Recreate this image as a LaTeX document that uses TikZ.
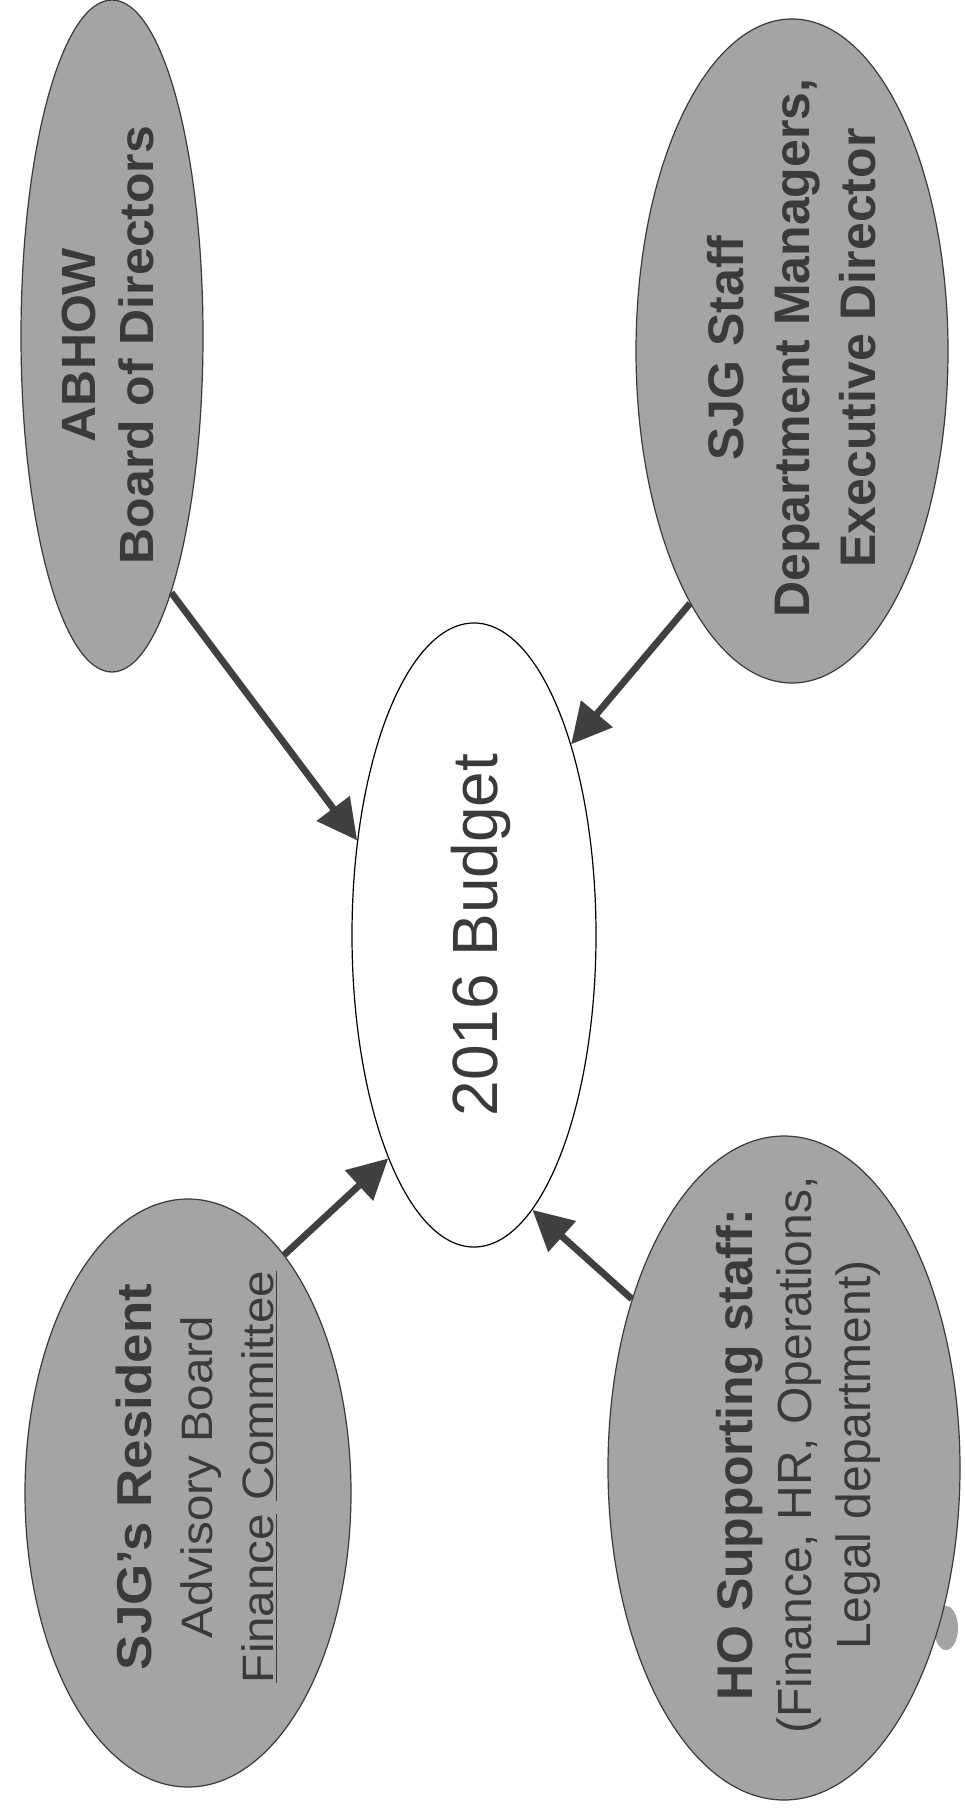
\documentclass[tikz,border=0pt]{standalone}
\usepackage{fontspec}
\setmainfont{Liberation Sans}
\usetikzlibrary{shapes.geometric, arrows.meta}

\definecolor{bubblegrey}{RGB}{164,164,164}
\definecolor{inkgrey}{RGB}{58,58,58}
\definecolor{arrowgrey}{RGB}{64,64,64}

\tikzset{
	bubble/.style = {ellipse, draw = inkgrey, line width = 0.6pt, fill = bubblegrey, inner sep = 0pt},
	budgetshape/.style = {ellipse, draw = black, line width = 0.6pt, fill = white, inner sep = 0pt},
	bubbletext/.style = {rotate = 90, align = center, text = inkgrey, inner sep = 0pt},
	feed/.style = {draw = arrowgrey, line width = 3.4pt, -{Triangle[length = 20pt, width = 20pt]}}
}

\begin{document}
\begin{tikzpicture}[x = 0.5pt, y = -0.5pt]
	\useasboundingbox (0,0) rectangle (964,1808);

	\begin{scope}
		\fill [bubblegrey] (946,1628) ellipse [x radius = 6pt, y radius = 11pt];
		\node [bubble, minimum width = 91pt, minimum height = 336pt] (abhow) at (112,336) {};
		\node [bubble, minimum width = 156pt, minimum height = 332pt] (staff) at (792,351) {};
		\node [bubble, minimum width = 163pt, minimum height = 294pt] (resident) at (188,1493) {};
		\node [bubble, minimum width = 176pt, minimum height = 332pt] (ho) at (784,1468) {};
		\node [budgetshape, minimum width = 122pt, minimum height = 312pt] (budget) at (474,935) {};
	\end{scope}

	\begin{scope}
		\node [bubbletext, xscale = 1.04, font = \bfseries\fontsize{24}{29}\selectfont] (abhowtext) at (108,345) {ABHOW\\Board of Directors};
		\node [bubbletext, font = \bfseries\fontsize{25}{33}\selectfont] (stafftext) at (792,348) {SJG Staff\\Department Managers,\\Executive Director};
		\node [bubbletext, font = \fontsize{32}{38}\selectfont] (budgettext) at (481,935) {2016 Budget};
		\node [bubbletext, xscale = 1.08, font = \fontsize{22}{30.5}\selectfont] (residenttext) at (197,1477) {{\bfseries\fontsize{24.5}{30.5}\selectfont SJG’s Resident}\\Advisory Board\\\underline{Finance} \underline{Committee}};
		\node [bubbletext, font = \fontsize{24}{29.5}\selectfont] (hotext) at (798,1455) {{\bfseries\fontsize{25}{29.5}\selectfont HO Supporting staff:}\\(Finance, HR, Operations,\\Legal department)};
	\end{scope}

	\begin{scope}
		\draw [feed] (abhow.-77) -- (budget.141);
		\draw [feed] (staff.248) -- (budget.63);
		\draw [feed] (resident.68) -- (budget.249);
		\draw [feed] (ho.132) -- (budget.-78);
	\end{scope}
\end{tikzpicture}
\end{document}
